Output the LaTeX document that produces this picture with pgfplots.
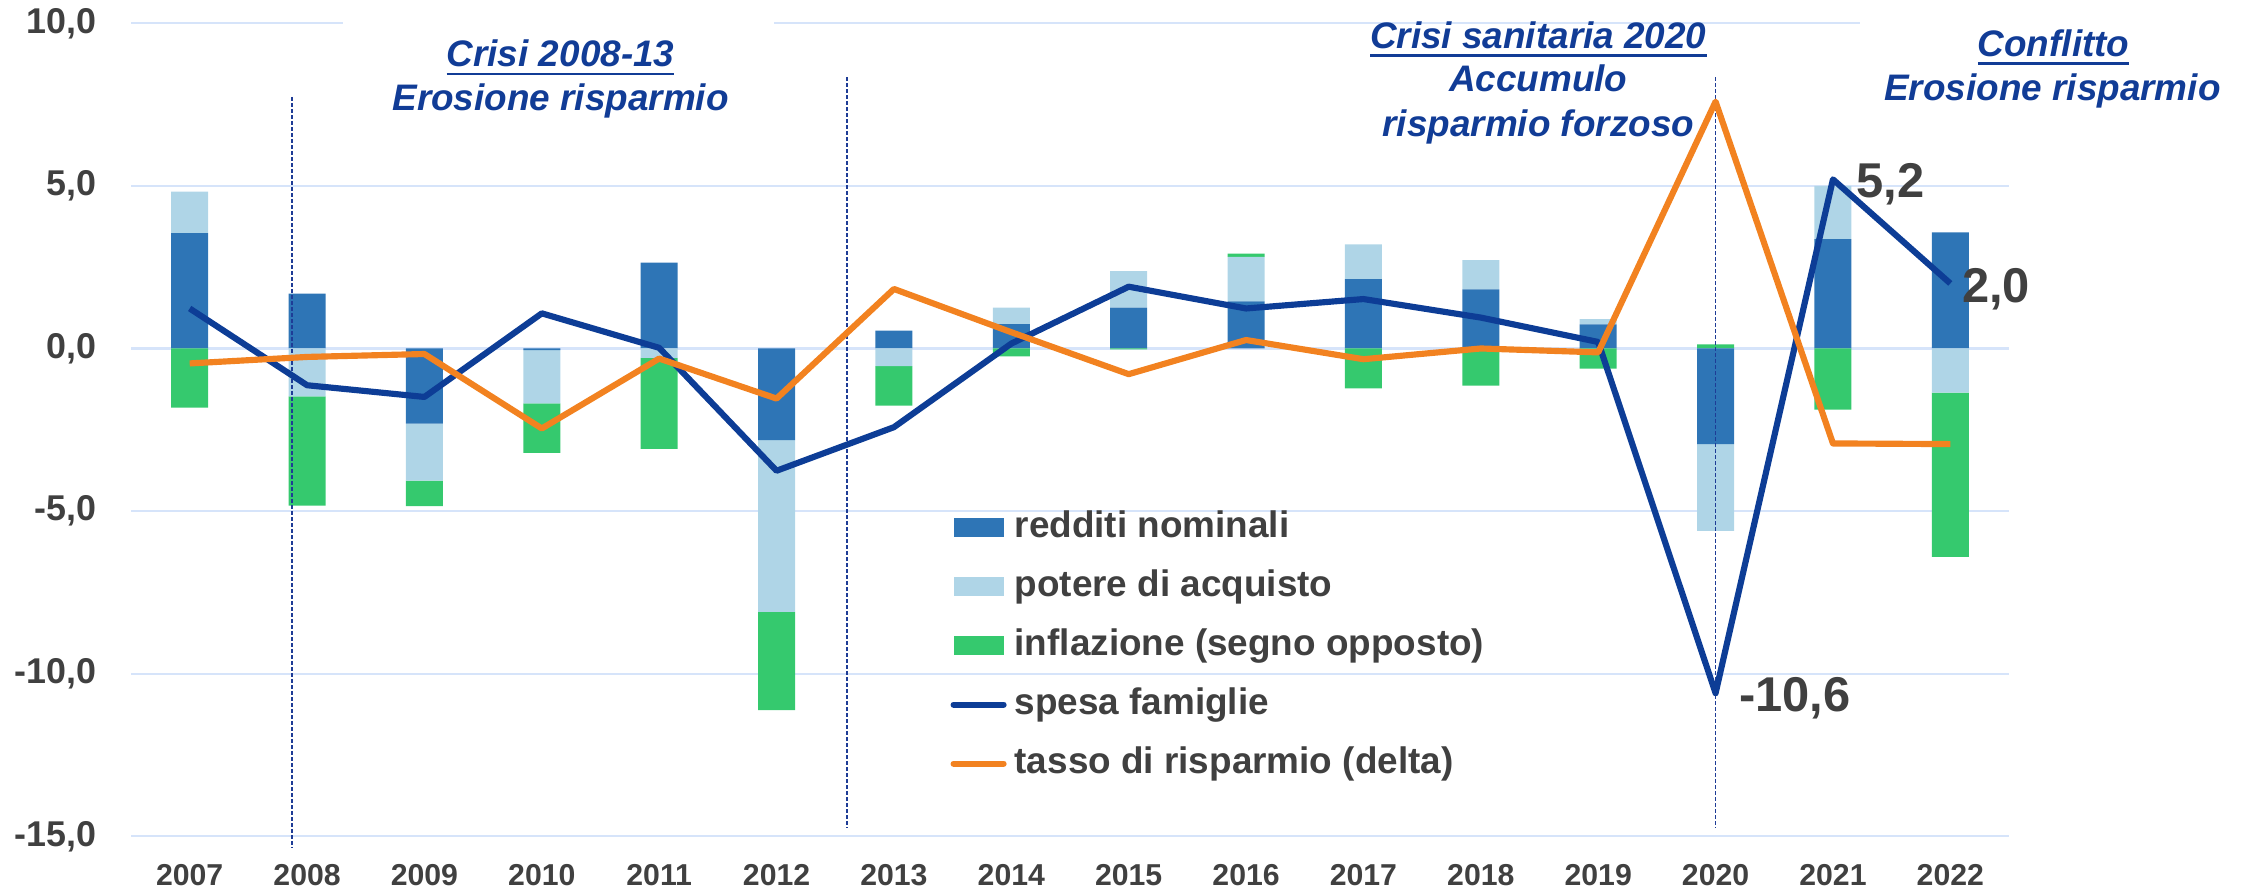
\documentclass[border=0pt]{standalone}
\usepackage{fontspec}
\setmainfont{Liberation Sans}
\usepackage{pgfplots}
\usepackage{pgfplotstable}
\pgfplotsset{compat=1.18}
\usetikzlibrary{calc}

\definecolor{Redditi}{RGB}{46,117,182}
\definecolor{Potere}{RGB}{175,213,231}
\definecolor{Inflaz}{RGB}{53,201,110}
\definecolor{Spesa}{RGB}{13,61,150}
\definecolor{Tasso}{RGB}{242,130,32}
\definecolor{Annot}{RGB}{17,60,150}
\definecolor{GridC}{RGB}{214,228,250}
\definecolor{TickGray}{RGB}{64,64,64}
\definecolor{DashC}{RGB}{30,60,150}

% positive and negative parts of the three components (Excel-style stacking)
\pgfplotstableread{
idx R P I
0 3.55 1.27 0
1 1.69 0 0
2 0 0 0
3 0 0 0
4 2.64 0 0
5 0 0 0
6 0.55 0 0
7 0.75 0.51 0
8 1.26 1.12 0
9 1.45 1.37 0.10
10 2.13 1.07 0
11 1.82 0.90 0
12 0.74 0.16 0
13 0 0 0.13
14 3.36 1.64 0
15 3.57 0 0
}\postab
\pgfplotstableread{
idx R P I
0 0 0 -1.82
1 0 -1.47 -3.36
2 -2.31 -1.75 -0.79
3 -0.05 -1.64 -1.52
4 0 -0.29 -2.80
5 -2.82 -5.28 -3.02
6 0 -0.54 -1.22
7 0 0 -0.24
8 0 0 -0.03
9 0 0 0
10 0 0 -1.23
11 0 0 -1.14
12 0 0 -0.62
13 -2.94 -2.67 0
14 0 0 -1.88
15 0 -1.36 -5.05
}\negtab
\pgfplotstableread{
idx S T
0 1.23 -0.46
1 -1.13 -0.26
2 -1.49 -0.17
3 1.08 -2.46
4 0.02 -0.31
5 -3.76 -1.54
6 -2.42 1.83
7 0.15 0.50
8 1.90 -0.79
9 1.23 0.26
10 1.52 -0.33
11 0.95 0.00
12 0.20 -0.12
13 -10.6 7.59
14 5.2 -2.92
15 2.0 -2.94
}\linetab

\pgfplotsset{
  base/.style={
    scale only axis, width=187.8mm, height=81.3mm,
    xmin=-0.5, xmax=15.5, ymin=-15, ymax=10,
    axis line style={draw=none}, major tick length=0pt,
    xtick={0,...,15}, ytick={-15,-10,...,10},
  },
  barleg/.style={legend image code/.code={\fill[##1] (0mm,-0.95mm) rectangle (5mm,0.95mm);}},
  lineleg/.style={legend image code/.code={\draw[##1, line cap=round] (0mm,0mm) -- (5mm,0mm);}},
}
\newcommand{\annfont}{\bfseries\itshape\fontsize{10.5}{12}\selectfont}
\newcommand{\ul}[1]{\setbox0=\hbox{#1}\rlap{\rule[-0.85mm]{\wd0}{0.28mm}}\box0}

\begin{document}
\begin{tikzpicture}
\begin{axis}[base,
  ybar stacked, bar width=3.7mm,
  ymajorgrids, grid style={draw=GridC, line width=0.6pt},
  xticklabels={2007,2008,2009,2010,2011,2012,2013,2014,2015,2016,2017,2018,2019,2020,2021,2022},
  xticklabel style={font=\bfseries\fontsize{8.6}{10}\selectfont, text=TickGray, inner sep=0pt, anchor=base, yshift=-4.9mm},
  yticklabel style={font=\bfseries\fontsize{10.2}{12}\selectfont, text=TickGray, inner sep=0pt, anchor=east, xshift=-3.4mm,
    /pgf/number format/.cd, fixed, fixed zerofill, precision=1, use comma, assume math mode=true},
]
\addplot[fill=Redditi, draw=none] table[x=idx, y=R]{\postab};
\addplot[fill=Potere, draw=none] table[x=idx, y=P]{\postab};
\addplot[fill=Inflaz, draw=none] table[x=idx, y=I]{\postab};
\coordinate (SW) at (rel axis cs:0,0);
\coordinate (NE) at (rel axis cs:1,1);
\end{axis}

\begin{axis}[base, hide axis, ybar stacked, bar width=3.7mm]
\addplot[fill=Redditi, draw=none] table[x=idx, y=R]{\negtab};
\addplot[fill=Potere, draw=none] table[x=idx, y=P]{\negtab};
\addplot[fill=Inflaz, draw=none] table[x=idx, y=I]{\negtab};
\end{axis}

\begin{axis}[base, hide axis, clip=false,
  legend cell align=left,
  legend style={draw=none, fill=none, inner sep=0pt,
    at={(axis description cs:0.436,0.402)}, anchor=north west,
    font=\bfseries\fontsize{10.5}{12}\selectfont, text=TickGray,
    row sep=2.4mm,
    nodes={inner sep=0pt, anchor=west, text height=2.7mm, text depth=0.8mm},
    /tikz/every odd column/.style={column sep=0.8mm}},
]
\addlegendimage{barleg, fill=Redditi, draw=none}
\addlegendentry{redditi nominali}
\addlegendimage{barleg, fill=Potere, draw=none}
\addlegendentry{potere di acquisto}
\addlegendimage{barleg, fill=Inflaz, draw=none}
\addlegendentry{inflazione (segno opposto)}

\draw[DashC, line width=0.4pt, dash pattern=on 0.4mm off 0.2mm] (axis cs:0.87,7.74) -- (axis cs:0.87,-15.35);
\draw[DashC, line width=0.4pt, dash pattern=on 0.4mm off 0.2mm] (axis cs:5.6,8.34) -- (axis cs:5.6,-14.74);
\draw[DashC, line width=0.4pt, dash pattern=on 0.4mm off 0.2mm] (axis cs:13,8.34) -- (axis cs:13,-14.74);

\addplot[Spesa, line width=1.75pt, line join=round, mark=none, lineleg] table[x=idx, y=S]{\linetab};
\addlegendentry{spesa famiglie}
\addplot[Tasso, line width=1.75pt, line join=round, mark=none, lineleg] table[x=idx, y=T]{\linetab};
\addlegendentry{tasso di risparmio (delta)}

% white boxes of the text annotations, hiding the top gridline
\fill[white] (axis cs:1.31,10.35) rectangle (axis cs:4.98,9.65);
\fill[white] (axis cs:14.23,10.35) rectangle (axis cs:15.7,9.65);

\node[anchor=base, text=Annot, font=\annfont, inner sep=0pt] at (axis cs:3.16,8.66) {\ul{Crisi 2008-13}};
\node[anchor=base, text=Annot, font=\annfont, inner sep=0pt] at (axis cs:3.16,7.31) {Erosione risparmio};
\node[anchor=base, text=Annot, font=\annfont, inner sep=0pt] at (axis cs:11.49,9.23) {\ul{Crisi sanitaria 2020}};
\node[anchor=base, text=Annot, font=\annfont, inner sep=0pt] at (axis cs:11.49,7.90) {Accumulo};
\node[anchor=base, text=Annot, font=\annfont, inner sep=0pt] at (axis cs:11.49,6.51) {risparmio forzoso};
\node[anchor=base, text=Annot, font=\annfont, inner sep=0pt] at (axis cs:15.88,8.97) {\ul{Conflitto}};
\node[anchor=base, text=Annot, font=\annfont, inner sep=0pt] at (axis cs:15.87,7.64) {Erosione risparmio};

\node[anchor=base west, text=TickGray, font=\bfseries\fontsize{13.9}{16}\selectfont, inner sep=0pt, xshift=2.3mm, yshift=-1.8mm] at (axis cs:14,5.2) {5,2};
\node[anchor=base west, text=TickGray, font=\bfseries\fontsize{13.9}{16}\selectfont, inner sep=0pt, xshift=1.1mm, yshift=-1.9mm] at (axis cs:15,2.0) {2,0};
\node[anchor=base west, text=TickGray, font=\bfseries\fontsize{13.9}{16}\selectfont, inner sep=0pt, xshift=2.3mm, yshift=-1.85mm] at (axis cs:13,-10.6) {-10,6};
\end{axis}
\pgfresetboundingbox
\path[use as bounding box] ($(SW)+(-13.1mm,-5.3mm)$) rectangle ($(NE)+(24mm,2.33mm)$);
\end{tikzpicture}
\end{document}
